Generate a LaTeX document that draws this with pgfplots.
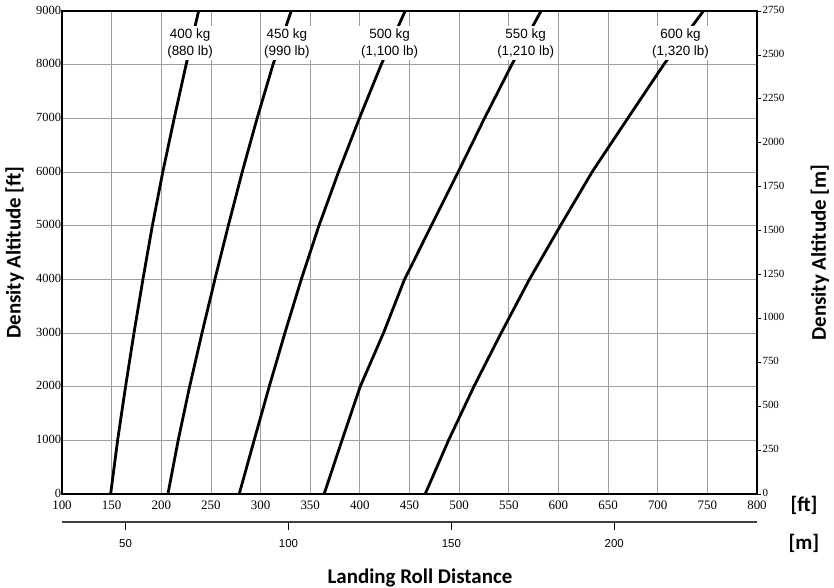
\documentclass[border=0pt]{standalone}
\usepackage{fontspec}
\setmainfont{Liberation Serif}
\newfontfamily\arial{Liberation Sans}
\newfontfamily\calibri{Carlito}
\usepackage{pgfplots}
\pgfplotsset{compat=1.18}

% landing roll distance [ft] per density altitude [ft]
\pgfplotstableread{
alt   w400  w450  w500  w550  w600
0     149   206.7 278.5 364   465.8
1000  156   217   293.5 382   489.3
2000  164   228.5 308.7 400.3 514.8
3000  172.5 241   324.5 423.8 542.3
4000  181.5 254   341   445   570.8
5000  191   267.5 358.8 472   602
6000  201.5 281.5 378.5 499   633.9
7000  213   296.5 399.5 525.5 669.8
8000  225   312.5 421.5 553   706
9000  237.6 330.9 445.6 582.5 746
}\rolldata

\tikzset{bigtitle/.style={font=\calibri\bfseries\fontsize{21}{24}\selectfont}}
\pgfplotsset{
  chartbox/.style={
    at={(62bp,94bp)}, anchor=south west,
    scale only axis, width=695bp, height=483bp,
    /pgf/number format/assume math mode=true,
    /pgf/number format/1000 sep={},
    scaled ticks=false,
  },
}

\begin{document}
\begin{tikzpicture}
\useasboundingbox (0,0) rectangle (834bp,588bp);

% main axis, feet
\begin{axis}[chartbox,
  clip mode=individual,
  xmin=100, xmax=800, ymin=0, ymax=9000,
  xtick={100,150,...,800}, ytick={0,1000,...,9000},
  grid=major,
  major grid style={color=black!38, line width=0.8pt},
  axis line style={black, line width=1.2pt},
  major tick length=0pt,
  xticklabel style={font=\fontsize{13}{14}\selectfont, yshift=-3bp},
  yticklabel style={font=\fontsize{12.5}{14}\selectfont, xshift=2.5bp, yshift=1bp},
  ylabel={Density Altitude [ft]},
  ylabel style={bigtitle, at={(axis description cs:-0.068,0.5)}, anchor=center},
]
\addplot[black, line width=2.8bp] table[x=w400, y=alt] {\rolldata};
\addplot[black, line width=2.8bp] table[x=w450, y=alt] {\rolldata};
\addplot[black, line width=2.8bp] table[x=w500, y=alt] {\rolldata};
\addplot[black, line width=2.8bp] table[x=w550, y=alt] {\rolldata};
\addplot[black, line width=2.8bp] table[x=w600, y=alt] {\rolldata};

\begin{scope}[every node/.style={fill=white, align=center, inner sep=2.5bp,
    font=\arial\fontsize{13.5}{17}\selectfont}]
  \node at (axis cs:229,8400) {400 kg\\(880 lb)};
  \node at (axis cs:326.5,8400) {450 kg\\(990 lb)};
  \node at (axis cs:430,8400) {500 kg\\(1,100 lb)};
  \node at (axis cs:567,8400) {550 kg\\(1,210 lb)};
  \node at (axis cs:723,8400) {600 kg\\(1,320 lb)};
\end{scope}

\node[bigtitle] at (axis description cs:1.0676,-0.0228) {[ft]};
\node[bigtitle] at (axis description cs:1.0676,-0.1014) {[m]};
\end{axis}

% right axis, metres
\begin{axis}[chartbox,
  xmin=100, xmax=800, ymin=0, ymax=2750,
  axis x line=none, axis y line*=right,
  ytick={0,250,...,2750},
  axis line style={black, line width=1.2pt},
  tick align=outside, major tick length=4bp,
  tick style={black, line width=0.8pt},
  yticklabel style={font=\fontsize{11}{12}\selectfont, xshift=-2bp, yshift=1bp},
  ylabel={Density Altitude [m]},
  ylabel style={bigtitle, at={(axis description cs:1.0906,0.5)}, anchor=center},
]
\end{axis}

% lower axis, metres
\begin{axis}[
  at={(62bp,66bp)}, anchor=south west,
  scale only axis, width=695bp, height=1bp,
  /pgf/number format/assume math mode=true,
  xmin=30.48, xmax=243.84, ymin=0, ymax=1,
  axis y line=none, axis x line*=bottom,
  xtick={50,100,150,200},
  axis line style={black!75, line width=1.4pt},
  tick align=outside, major tick length=8bp,
  tick style={black, line width=0.8pt},
  xticklabel style={font=\arial\fontsize{11.5}{12}\selectfont, yshift=-6bp},
  xlabel={Landing Roll Distance},
  xlabel style={bigtitle, at={(axis description cs:0.515,0)}, anchor=center, yshift=-56bp},
]
\end{axis}
\end{tikzpicture}
\end{document}
